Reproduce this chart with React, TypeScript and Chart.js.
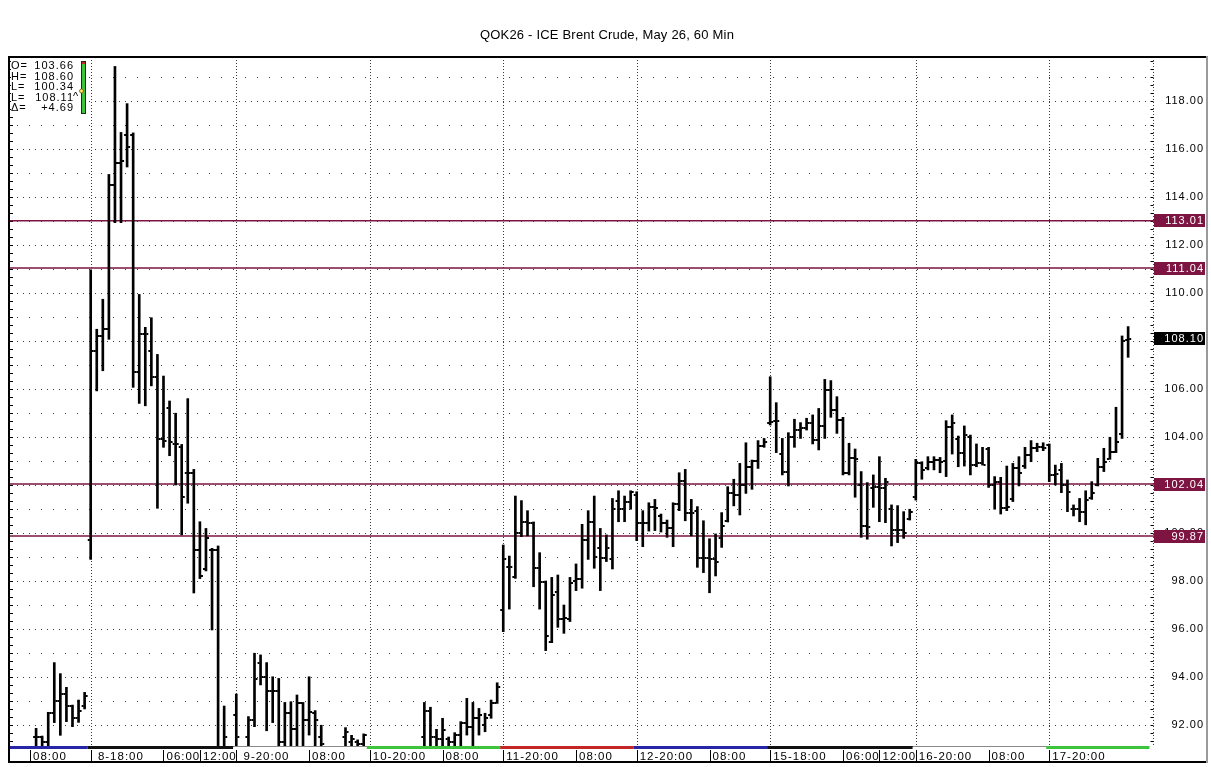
import React, { useEffect, useRef } from "react";
import { Chart, registerables } from "chart.js";

Chart.register(...registerables);

const TITLE = "QOK26 - ICE Brent Crude, May 26, 60 Min";

// hourly bar slots (session breaks removed)
const barSlots = [
  0, 1, 2, 3, 4, 5, 6, 7, 8,
  9, 10, 11, 12, 13, 14, 15, 16, 17, 18, 19, 20, 21, 22, 23, 24, 25, 26, 27, 28, 29, 30, 31,
  33, 35, 36, 37, 38, 39, 40, 41, 42, 43, 44, 45, 46, 47, 51, 52, 53, 54,
  64, 65, 66, 67, 68, 69, 70, 71, 72, 73, 74, 75, 76,
  77, 78, 79, 80, 81, 82, 83, 84, 85, 86, 87, 88, 89, 90, 91, 92, 93, 94, 95, 96, 97, 98,
  99, 100, 101, 102, 103, 104, 105, 106, 107, 108, 109, 110, 111, 112, 113, 114, 115, 116, 117, 118, 119, 120,
  121, 122, 123, 124, 125, 126, 127, 128, 129, 130, 131, 132, 133, 134, 135, 136, 137, 138, 139, 140, 141, 142, 143, 144,
  145, 146, 147, 148, 149, 150, 151, 152, 153, 154, 155, 156, 157, 158, 159, 160, 161, 162, 163, 164, 165, 166,
  167, 168, 169, 170, 171, 172, 173, 174, 175, 176, 177, 178, 179, 180,
];

const opens = [
  91.5, 91.5, 91.3, 92.5, 93.0, 93.3, 92.8, 92.3, 92.8,
  99.7, 107.6, 108.2, 108.5, 114.5, 115.4, 116.6, 116.6, 106.7, 108.3, 107.6, 106.5, 103.9, 105.2, 103.7, 103.6, 102.5, 102.5, 99.3, 98.5, 99.3, 99.3, 91.0,
  92.4, 91.5, 92.2, 94.57, 94.0, 93.4, 93.4, 91.3, 92.5, 91.85, 92.9, 92.2, 92.5, 91.5, 91.5, 91.3, 91.3, 91.2,
  91.5, 92.6, 91.5, 91.4, 91.4, 91.3, 91.6, 92.1, 91.9, 92.3, 92.0, 92.4, 92.9,
  96.8, 98.6, 98.18, 100.0, 100.47, 100.4, 98.56, 97.97, 95.47, 97.53, 96.4, 96.4, 98.0, 98.07, 99.71, 100.47, 99.36, 98.95, 98.92, 101.35, 101.0, 101.3,
  101.6, 100.43, 100.43, 101.07, 100.7, 100.43, 100.19, 101.19, 102.18, 100.82, 100.9, 98.95, 98.95, 98.92, 99.8, 100.5, 101.65, 101.6, 102.0, 102.76, 103.0, 103.63,
  104.6, 104.67, 103.3, 102.56, 104.01, 104.29, 104.39, 104.6, 103.87, 104.46, 105.96, 105.12, 104.7, 102.5, 103.11, 102.0, 100.3, 101.86, 101.9, 101.86, 101.0, 100.12, 100.12, 100.6,
  101.51, 102.9, 102.7, 102.97, 103.04, 103.01, 104.4, 103.9, 103.32, 104.0, 102.83, 102.9, 103.5, 102.0, 102.14, 101.03, 101.4, 102.7, 102.8, 103.25, 103.53, 103.6,
  103.66, 102.42, 102.62, 102.0, 101.0, 100.99, 100.89, 101.45, 102.0, 102.73, 103.1, 103.39, 104.12, 108.04,
];

const highs = [
  91.86, 91.54, 92.53, 94.6, 94.14, 93.57, 92.83, 93.04, 93.36,
  110.96, 108.49, 109.74, 114.94, 119.44, 116.69, 117.89, 116.67, 109.94, 108.57, 108.97, 107.44, 106.54, 105.5, 104.99, 103.69, 105.6, 102.65, 100.47, 100.19, 99.36, 99.46, 92.79,
  93.29, 92.35, 94.99, 94.92, 94.6, 94.01, 93.94, 92.94, 92.97, 93.25, 92.94, 94.01, 92.6, 91.99, 91.89, 91.57, 91.38, 91.63,
  92.94, 92.74, 91.82, 92.28, 91.5, 91.68, 92.14, 93.11, 92.94, 92.69, 92.49, 93.04, 93.76,
  99.5, 99.04, 101.54, 101.35, 100.93, 100.46, 99.18, 98.0, 98.15, 98.25, 97.0, 98.15, 98.71, 100.36, 100.93, 101.54, 100.19, 99.92, 101.44, 101.76, 101.54, 101.76,
  101.72, 100.93, 101.26, 101.4, 100.79, 100.54, 101.26, 102.51, 102.65, 101.4, 101.1, 100.51, 99.76, 99.96, 100.85, 101.93, 102.24, 102.9, 103.76, 103.04, 103.85, 103.94,
  106.51, 105.43, 103.94, 104.18, 104.74, 104.6, 104.78, 104.92, 105.19, 106.4, 106.35, 105.68, 104.82, 103.74, 103.5, 102.56, 102.1, 102.42, 103.18, 102.28, 101.17, 101.14, 100.89, 100.99,
  103.07, 102.97, 103.18, 103.18, 103.15, 104.68, 104.92, 104.04, 104.46, 104.08, 103.71, 103.57, 103.57, 102.35, 102.32, 102.79, 102.9, 103.18, 103.57, 103.85, 103.74, 103.76,
  103.71, 102.83, 102.9, 102.21, 101.17, 101.44, 101.76, 102.14, 103.11, 103.53, 103.99, 105.24, 108.21, 108.6,
];

const lows = [
  90.9, 90.9, 90.9, 92.1, 91.57, 92.14, 91.93, 92.11, 92.67,
  98.9, 105.92, 106.76, 108.07, 112.93, 112.93, 115.25, 106.07, 105.4, 105.3, 106.13, 101.03, 103.57, 103.22, 102.0, 99.92, 101.24, 97.5, 98.1, 98.42, 95.96, 90.5, 90.5,
  90.8, 90.9, 91.93, 93.67, 91.76, 92.1, 90.9, 90.9, 90.9, 90.9, 90.9, 91.58, 90.9, 90.9, 90.9, 90.9, 90.9, 90.9,
  90.9, 90.9, 90.9, 90.9, 90.9, 90.9, 90.9, 91.58, 90.9, 91.58, 91.72, 92.28, 92.9,
  95.89, 96.83, 98.11, 99.85, 99.88, 97.76, 96.83, 95.1, 95.43, 96.07, 95.82, 96.31, 97.6, 97.7, 98.9, 98.53, 97.6, 98.81, 98.5, 100.47, 100.47, 100.99,
  99.68, 99.43, 100.08, 100.1, 100.04, 99.82, 99.43, 100.93, 100.51, 99.88, 98.57, 98.35, 97.51, 98.21, 99.4, 100.46, 101.13, 100.75, 101.65, 101.82, 102.69, 103.57,
  104.5, 103.35, 102.42, 101.96, 103.57, 103.94, 104.29, 103.71, 103.46, 103.94, 104.82, 104.15, 102.42, 102.42, 101.49, 99.82, 99.74, 101.07, 100.47, 100.43, 99.46, 99.6, 99.78, 100.54,
  101.37, 102.24, 102.63, 102.63, 102.51, 102.35, 103.29, 102.76, 102.79, 102.42, 102.76, 102.83, 101.9, 100.99, 100.79, 100.93, 101.31, 101.96, 102.69, 102.97, 103.39, 103.43,
  102.14, 102.0, 101.68, 100.89, 100.71, 100.47, 100.34, 101.4, 101.96, 102.56, 103.07, 103.35, 103.94, 107.32,
];

const closes = [
  91.5, 91.3, 92.5, 93.0, 93.3, 92.8, 92.3, 92.6, 93.2,
  107.6, 108.2, 108.5, 114.5, 115.4, 115.5, 116.1, 106.7, 108.3, 108.3, 106.5, 103.9, 103.85, 103.8, 103.7, 101.5, 102.5, 99.3, 98.2, 99.8, 99.3, 91.0, 91.5,
  91.5, 92.2, 93.9, 94.0, 93.4, 93.4, 91.3, 92.5, 91.85, 92.9, 92.2, 92.53, 92.2, 91.2, 91.7, 91.4, 91.2, 91.6,
  92.6, 91.5, 91.4, 91.79, 91.3, 91.6, 92.1, 91.93, 92.3, 92.4, 92.3, 92.9, 93.6,
  98.9, 98.57, 100.0, 100.47, 100.4, 98.56, 97.97, 95.72, 97.4, 96.4, 96.47, 97.9, 98.07, 99.71, 100.47, 99.0, 98.95, 99.36, 101.0, 101.0, 101.3, 101.7,
  100.43, 100.43, 101.07, 101.05, 100.43, 100.19, 101.19, 102.18, 100.82, 100.82, 98.95, 98.95, 98.92, 98.8, 100.3, 101.65, 101.6, 102.0, 102.76, 103.0, 103.63, 103.8,
  104.64, 104.67, 102.56, 104.01, 104.29, 104.39, 104.6, 103.87, 104.46, 105.96, 105.12, 104.7, 102.5, 103.11, 103.08, 100.3, 100.26, 101.9, 101.86, 102.11, 100.12, 100.12, 99.99, 100.89,
  102.9, 102.63, 102.97, 103.04, 102.97, 104.4, 104.57, 103.32, 104.08, 102.83, 102.9, 102.83, 102.0, 102.14, 101.03, 101.1, 102.7, 102.5, 103.25, 103.53, 103.6, 103.53,
  102.42, 102.46, 102.0, 101.72, 100.99, 100.89, 101.37, 101.65, 102.73, 102.97, 103.39, 103.8, 108.0, 108.1,
];

const levelPrices = [113.01, 111.04, 102.04, 99.87];
const lastPrice = 108.1;

const priceTicks = [92, 94, 96, 98, 100, 102, 104, 106, 108, 110, 112, 114, 116, 118];

const timeLabelSlots = [-1, 9, 21, 27, 33, 45, 55, 67, 77, 89, 99, 111, 121, 133, 139, 145, 157, 167];
const timeLabels = [
  "08:00", " 8-18:00", "06:00", "12:00", " 9-20:00", "08:00", "10-20:00", "08:00", "11-20:00",
  "08:00", "12-20:00", "08:00", "15-18:00", "06:00", "12:00", "16-20:00", "08:00", "17-20:00",
];

const sessionStartSlots = [9, 33, 55, 77, 99, 121, 145, 167];
const lastSessionEndSlot = 183.5;

const infoKeys = ["O=", "H=", "L=", "L=", "Δ="];
const infoValues = ["103.66", "108.60", "100.34", "108.11", "+4.69"];

// ---- styles ----
const X_MIN = -4.3;
const X_MAX = 184.1;
const Y_MIN = 91.125;
const Y_MAX = 119.833;
const FONT = '"Liberation Sans", Arial, Helvetica, sans-serif';
const LEVEL_COLOR = "#7d1442";
const STRIP_COLORS = ["#2626a6", "#111111", "#ffffff", "#3cc43c", "#c42626", "#2626a6", "#111111", "#ffffff", "#3cc43c"];

function makeTick(side: "left" | "right") {
  const c = document.createElement("canvas");
  c.width = 8;
  c.height = 2;
  const g = c.getContext("2d")!;
  g.fillStyle = "#000";
  if (side === "left") g.fillRect(1, 0, 2, 2);
  else g.fillRect(5, 0, 2, 2);
  return c;
}

const spacingPlugin = {
  id: "spacing",
  beforeUpdate(chart: any) {
    chart.ctx.letterSpacing = "1px";
  },
  beforeDraw(chart: any) {
    chart.ctx.letterSpacing = "1px";
  },
};

const gridPlugin = {
  id: "dottedGrid",
  beforeDatasetsDraw(chart: any) {
    const { ctx, chartArea: a, scales } = chart;
    const x = scales.x;
    const y = scales.y;
    ctx.save();
    ctx.strokeStyle = "#3a3a3a";
    ctx.lineWidth = 1;
    for (let v = Math.ceil(y.min); v <= Math.floor(y.max); v++) {
      const py = Math.round(y.getPixelForValue(v)) + 0.5;
      ctx.setLineDash(v % 2 === 0 ? [1, 5] : [1, 11]);
      ctx.beginPath();
      ctx.moveTo(a.left + 7, py);
      ctx.lineTo(a.right, py);
      ctx.stroke();
    }
    ctx.setLineDash([1, 2]);
    for (const s of sessionStartSlots) {
      const px = Math.round(x.getPixelForValue(s)) + 0.5;
      ctx.beginPath();
      ctx.moveTo(px, a.top);
      ctx.lineTo(px, a.bottom);
      ctx.stroke();
    }
    const rx = Math.round(a.right) + 0.5;
    ctx.beginPath();
    ctx.moveTo(rx, a.top);
    ctx.lineTo(rx, a.bottom);
    ctx.stroke();
    ctx.setLineDash([]);
    // axis minor ticks
    ctx.strokeStyle = "#000";
    for (let k = Math.ceil(y.min * 3); k <= Math.floor(y.max * 3); k++) {
      const py = Math.round(y.getPixelForValue(k / 3)) + 0.5;
      ctx.beginPath();
      ctx.moveTo(a.left, py);
      ctx.lineTo(a.left + 3, py);
      ctx.moveTo(rx - 3, py);
      ctx.lineTo(rx, py);
      ctx.stroke();
    }
    ctx.restore();
  },
};

const decorPlugin = {
  id: "decor",
  afterDraw(chart: any) {
    const { ctx, chartArea: a, scales } = chart;
    const x = scales.x;
    const y = scales.y;
    ctx.save();

    // session strip under the plot
    const edges = [X_MIN, ...sessionStartSlots.map((s) => s - 0.5), lastSessionEndSlot];
    ctx.fillStyle = "#8a8a8a";
    ctx.fillRect(a.left, a.bottom, x.getPixelForValue(lastSessionEndSlot) - a.left, 1);
    for (let i = 0; i < edges.length - 1; i++) {
      const x0 = Math.max(a.left, x.getPixelForValue(edges[i]));
      const x1 = x.getPixelForValue(edges[i + 1]);
      const col = STRIP_COLORS[i % STRIP_COLORS.length];
      ctx.fillStyle = col;
      if (col === "#ffffff") ctx.fillRect(x0, a.bottom + 1, x1 - x0, 2);
      else ctx.fillRect(x0, a.bottom, x1 - x0, 3);
    }

    // time label tick lines
    ctx.fillStyle = "#000";
    for (const s of timeLabelSlots) {
      const px = Math.round(x.getPixelForValue(s));
      ctx.fillRect(px, a.bottom + 4, 1, 12);
    }

    // price level boxes on the right axis
    ctx.font = `11px ${FONT}`;
    ctx.letterSpacing = "1px";
    ctx.textAlign = "right";
    ctx.textBaseline = "middle";
    for (const p of levelPrices) {
      const py = y.getPixelForValue(p);
      ctx.fillStyle = LEVEL_COLOR;
      ctx.fillRect(a.right, py - 0.75, 3, 1.5);
      ctx.fillRect(a.right + 1, Math.round(py - 6.5), 51, 13);
      ctx.fillStyle = "#ffffff";
      ctx.fillText(p.toFixed(2), 1204, py + 0.5);
    }
    {
      const py = y.getPixelForValue(lastPrice);
      ctx.fillStyle = "#000";
      ctx.fillRect(a.right + 1, Math.round(py - 6.5), 51, 13);
      ctx.fillStyle = "#ffffff";
      ctx.fillText(lastPrice.toFixed(2), 1204, py + 0.5);
    }

    // info box
    ctx.fillStyle = "#ffffff";
    ctx.fillRect(a.left + 1, a.top + 1, 78, 58);
    ctx.fillStyle = "#000";
    ctx.font = `11px ${FONT}`;
    ctx.letterSpacing = "1px";
    for (let i = 0; i < infoKeys.length; i++) {
      const py = 66 + i * 10.6;
      ctx.textAlign = "left";
      ctx.fillText(infoKeys[i], 11, py);
      ctx.textAlign = "right";
      ctx.fillText(infoValues[i], 74, py);
    }
    ctx.textAlign = "left";
    ctx.fillText("^", 73, 97);
    ctx.fillStyle = "#222";
    ctx.fillRect(81, 61, 5, 53);
    ctx.fillStyle = "#3cc43c";
    ctx.fillRect(82, 62, 3, 51);
    ctx.fillStyle = "#c42626";
    ctx.fillRect(82, 62, 3, 2);
    ctx.beginPath();
    ctx.arc(81.5, 91, 2, 0, Math.PI * 2);
    ctx.fillStyle = "#ffe066";
    ctx.fill();
    ctx.strokeStyle = "#7a5a00";
    ctx.lineWidth = 0.8;
    ctx.stroke();

    // title
    ctx.letterSpacing = "0.2px";
    ctx.font = `13px ${FONT}`;
    ctx.fillStyle = "#000";
    ctx.textAlign = "center";
    ctx.textBaseline = "middle";
    ctx.fillText(TITLE, 607, 35);

    // frame
    ctx.fillStyle = "#000";
    ctx.fillRect(8, 56, 1200, 2);
    ctx.fillRect(8, 56, 2, 707);
    ctx.fillRect(8, 761, 1199, 2);
    ctx.fillStyle = "#9a9a9a";
    ctx.fillRect(1206, 56, 2, 707);
    ctx.restore();
  },
};

export default function App() {
  const ref = useRef<HTMLCanvasElement>(null);
  useEffect(() => {
    const canvas = ref.current!;
    const openTick = makeTick("left");
    const closeTick = makeTick("right");
    const datasets: any[] = [
      {
        type: "bar",
        label: "High-Low",
        data: barSlots.map((s, i) => ({ x: s, y: [lows[i], highs[i]] })),
        backgroundColor: "#000",
        borderWidth: 0,
        barThickness: 2,
        order: 1,
      },
      {
        type: "scatter",
        label: "Open",
        data: barSlots.map((s, i) => ({ x: s, y: opens[i] })),
        pointStyle: openTick,
        pointRadius: 2,
        order: 0,
      },
      {
        type: "scatter",
        label: "Close",
        data: barSlots.map((s, i) => ({ x: s, y: closes[i] })),
        pointStyle: closeTick,
        pointRadius: 2,
        order: 0,
      },
      ...levelPrices.map((p) => ({
        type: "line",
        label: `Level ${p}`,
        data: [
          { x: X_MIN, y: p },
          { x: X_MAX, y: p },
        ],
        borderColor: LEVEL_COLOR,
        borderWidth: 1.5,
        pointRadius: 0,
        order: 5,
      })),
    ];
    const chart = new Chart(canvas, {
      type: "bar",
      data: { datasets },
      options: {
        responsive: false,
        maintainAspectRatio: false,
        animation: false,
        events: [],
        layout: { padding: { top: 57, left: 10, right: 4, bottom: 5 } },
        plugins: { legend: { display: false }, tooltip: { enabled: false }, title: { display: false } },
        scales: {
          x: {
            type: "linear",
            offset: false,
            min: X_MIN,
            max: X_MAX,
            afterBuildTicks: (scale: any) => {
              scale.ticks = timeLabelSlots.map((v) => ({ value: v }));
            },
            afterFit: (scale: any) => {
              scale.height = 16;
              scale.paddingLeft = 0;
              scale.paddingRight = 0;
            },
            grid: { display: false, drawTicks: false, offset: false },
            border: { display: false },
            ticks: {
              autoSkip: false,
              maxRotation: 0,
              minRotation: 0,
              align: "start",
              labelOffset: 3,
              padding: 4,
              color: "#000",
              font: { family: FONT, size: 11.5 },
              callback: (_v: any, i: number) => timeLabels[i] ?? "",
            },
          },
          y: {
            type: "linear",
            position: "right",
            min: Y_MIN,
            max: Y_MAX,
            afterBuildTicks: (scale: any) => {
              scale.ticks = priceTicks.map((v) => ({ value: v }));
            },
            afterFit: (scale: any) => {
              scale.width = 54;
              scale.paddingTop = 0;
              scale.paddingBottom = 0;
            },
            grid: { display: false, drawTicks: false },
            border: { display: false },
            ticks: {
              mirror: true,
              padding: 51,
              color: "#000",
              font: { family: FONT, size: 11 },
              callback: (v: any) => Number(v).toFixed(2),
            },
          },
        },
      },
      plugins: [spacingPlugin, gridPlugin, decorPlugin],
    } as any);
    return () => chart.destroy();
  }, []);
  return (
    <div style={{ position: "absolute", left: 0, top: 0, width: 1211, height: 767, background: "#fff" }}>
      <canvas ref={ref} width={1211} height={767} style={{ display: "block", width: 1211, height: 767 }} />
    </div>
  );
}
